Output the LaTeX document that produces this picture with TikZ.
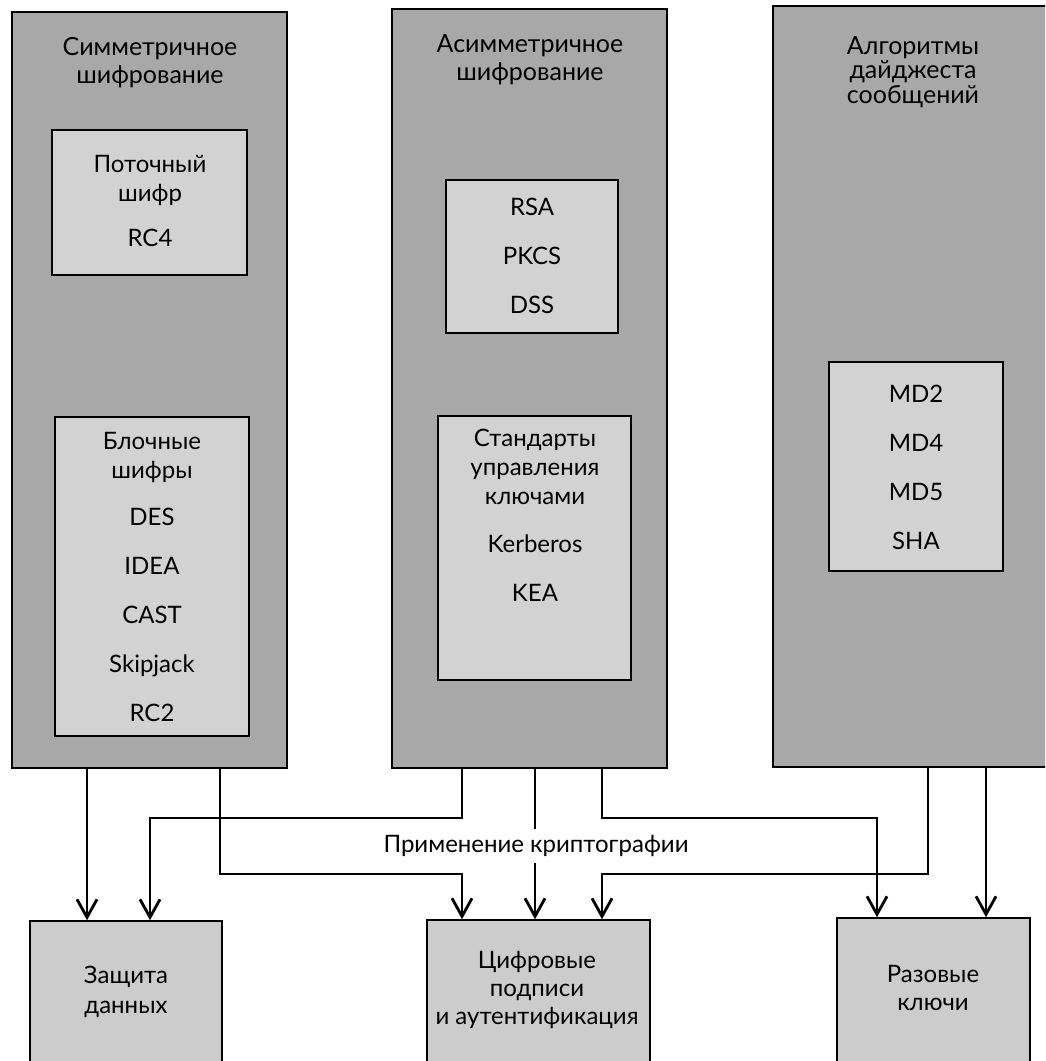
\documentclass[tikz,border=0pt]{standalone}
\usepackage{fontspec}
\setmainfont{Lato}
\usetikzlibrary{fit,arrows.meta}
\definecolor{colgray}{RGB}{168,168,168}
\definecolor{panelgray}{RGB}{210,210,210}
\definecolor{usegray}{RGB}{204,204,204}
\begin{document}
\begin{tikzpicture}[x=0.5pt,y=-0.5pt,
  column/.style={draw=black, line width=0.8pt, fill=colgray, inner sep=0pt},
  panel/.style={draw=black, line width=0.8pt, fill=panelgray, inner sep=0pt},
  usebox/.style={draw=black, line width=0.8pt, fill=usegray, inner sep=0pt},
  txt/.style={align=center, inner sep=0pt, font=\fontsize{12}{14.5}\selectfont},
  link/.style={line width=1.4pt, -{Straight Barb[length=9pt,width=10pt]}}]
\useasboundingbox (0,0) rectangle (1045,1061);
\clip (0,0) rectangle (1045,1061);

% three algorithm families
\node[column, fit={(12,12) (287,768)}] (c1) {};
\node[column, fit={(392,9) (667,768)}] (c2) {};
\node[column, fit={(773,6) (1080,767)}] (c3) {};

\node[txt, font=\fontsize{12.5}{14}\selectfont] (t1) at (150,63) {Симметричное\\шифрование};
\node[txt, font=\fontsize{12.5}{14}\selectfont] (t2) at (530,60) {Асимметричное\\шифрование};
\node[txt, font=\fontsize{12.5}{12.3}\selectfont] (t3) at (913,72) {Алгоритмы\\дайджеста\\сообщений};

% inner panels
\node[panel, fit={(52,130) (247,275)}] (p11) {};
\node[panel, fit={(55,417) (249,736)}] (p12) {};
\node[panel, fit={(446,180) (618,333)}] (p21) {};
\node[panel, fit={(438,416) (631,680)}] (p22) {};
\node[panel, fit={(829,362) (1003,571)}] (p31) {};

\node[txt] (l11) at (150,201) {Поточный\\шифр\\[8pt]RC4};
\node[txt] (l12) at (152,577) {Блочные\\шифры\\[9pt]DES\\[10pt]IDEA\\[10pt]CAST\\[10pt]Skipjack\\[10pt]RC2};
\node[txt] (l21) at (532,256) {RSA\\[10pt]PKCS\\[10pt]DSS};
\node[txt] (l22) at (535,515) {Стандарты\\управления\\ключами\\[9.5pt]Kerberos\\[10pt]KEA};
\node[txt] (l31) at (916,467) {MD2\\[10pt]MD4\\[10pt]MD5\\[10pt]SHA};

% application areas
\node[usebox, fit={(30,921) (222,1100)}] (zd) {};
\node[usebox, fit={(427,920) (650,1100)}] (cp) {};
\node[usebox, fit={(837,918) (1030,1100)}] (rk) {};

\node[txt, font=\fontsize{12}{15}\selectfont] (lzd) at (126,992) {Защита\\данных};
\node[txt, font=\fontsize{12}{14.2}\selectfont] (lcp) at (537,990) {Цифровые\\подписи\\и аутентификация};
\node[txt, font=\fontsize{12}{14}\selectfont] (lrk) at (933,988) {Разовые\\ключи};

% routing columns and levels
\coordinate (x1) at (87,0);
\coordinate (x2) at (220,0);
\coordinate (x3) at (150,0);
\coordinate (x4) at (462,0);
\coordinate (x5) at (535,0);
\coordinate (x6) at (602,0);
\coordinate (x7) at (877,0);
\coordinate (x8) at (928,0);
\coordinate (x9) at (986,0);
\coordinate (hi) at (0,818);
\coordinate (lo) at (0,874);

\draw[link] (c1.south -| x1) -- (zd.north -| x1);
\draw[link] (c1.south -| x2) |- (x4 |- lo) -- (cp.north -| x4);
\draw[link] (c2.south -| x4) |- (x3 |- hi) -- (zd.north -| x3);
\draw[link] (c2.south -| x5) -- (cp.north -| x5);
\draw[link] (c2.south -| x6) |- (x7 |- hi) -- (rk.north -| x7);
\draw[link] (c3.south -| x8) |- (x6 |- lo) -- (cp.north -| x6);
\draw[link] (c3.south -| x9) -- (rk.north -| x9);

\node[txt, fill=white, inner sep=3pt] (apply) at (536,846) {Применение криптографии};
\end{tikzpicture}
\end{document}
